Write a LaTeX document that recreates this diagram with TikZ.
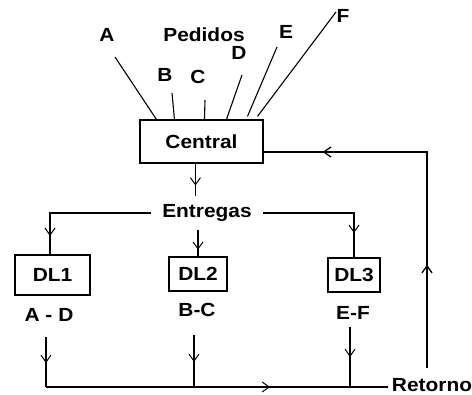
\documentclass[tikz,border=0pt]{standalone}
\usepackage{fontspec}
\setmainfont[FakeStretch=1.1]{Liberation Sans}
\usetikzlibrary{arrows.meta,decorations.markings,calc}
\begin{document}
\begin{tikzpicture}[x=1pt,y=-1pt,
  every node/.style={font=\fontsize{19}{21}\selectfont\bfseries, inner sep=0pt},
  box/.style={draw, line width=1.1pt},
  wire/.style={line width=1.1pt},
  mk/.style={postaction={decorate},decoration={markings,
     mark=at position #1 with {\arrow{Straight Barb[length=7pt,width=10pt,line width=1pt]}}}}
]
\useasboundingbox (0,0) rectangle (472,395);

% nodes
\node[box, minimum width=123, minimum height=43] (central) at (201.5,141.5) {Central};
\node (pedidos) at (204,35) {Pedidos};
\node (lA) at (107,35) {A};
\node (lB) at (165,75) {B};
\node (lC) at (198,77) {C};
\node (lD) at (239,53) {D};
\node (lE) at (286,32) {E};
\node (lF) at (343,16) {F};
\node[inner xsep=11pt, inner ysep=8pt] (entregas) at (207,213) {Entregas};
\node[box, minimum width=75, minimum height=40] (dl1) at (52.5,275) {DL1};
\node[box, minimum width=58, minimum height=34] (dl2) at (198,274) {DL2};
\node[box, minimum width=52, minimum height=34] (dl3) at (354,275) {DL3};
\node (ad) at (49,315) {A - D};
\node (bc) at (197,310) {B-C};
\node (ef) at (353,313) {E-F};
\node[inner xsep=4pt] (retorno) at (432,385) {Retorno};

% free ends of order lines
\coordinate (a0) at (115,57);
\coordinate (b0) at (172,93);
\coordinate (c0) at (205,100);
\coordinate (d0) at (242,75);
\coordinate (e0) at (277,47);
\coordinate (f0) at (336,12);

\draw[wire] (a0) -- ($(central.north west)+(17,0)$);
\draw[wire] (b0) -- ($(central.north west)+(35,0)$);
\draw[wire] (c0) -- ($(central.north west)+(65,0)$);
\draw[wire] (d0) -- ($(central.north west)+(87,0)$);
\draw[wire] (e0) -- ($(central.north west)+(108,-3)$);
\draw[wire] (f0) -- ($(central.north west)+(118,-3)$);

% central to entregas
\coordinate (cdown) at ($(central.south west)+(56,0)$);
\draw[wire, mk=22pt] (cdown) -- (cdown |- entregas.north);

% distribution
\coordinate (lcorner) at (50,213);
\coordinate (rcorner) at (354,213);
\draw[wire, mk=124pt] (entregas.west) -- (lcorner) -- (lcorner |- dl1.north);
\draw[wire, mk=20pt] (dl2.north |- entregas.south) -- (dl2.north);
\draw[wire, mk=111pt] (entregas.east) -- (rcorner) -- (dl3.north);

% returns from depots
\coordinate (r1) at (46,337);
\coordinate (r2) at (194,335);
\coordinate (r3) at (350,327);
\coordinate (b1) at (46,387);
\coordinate (b2) at (194,387);
\coordinate (b3) at (350,387);
\draw[wire, mk=26pt] (r1) -- (b1);
\draw[wire, mk=27pt] (r2) -- (b2);
\draw[wire, mk=30pt] (r3) -- (b3);
\draw[wire, mk=224pt] (b1) -- (b2) -- (b3) -- (b3 -| retorno.west);

% feedback loop
\coordinate (up0) at (427,368);
\coordinate (upc) at (427,152);
\draw[wire, mk=103pt, mk=320pt] (up0) -- (upc) -- (upc -| central.east);
\end{tikzpicture}
\end{document}
